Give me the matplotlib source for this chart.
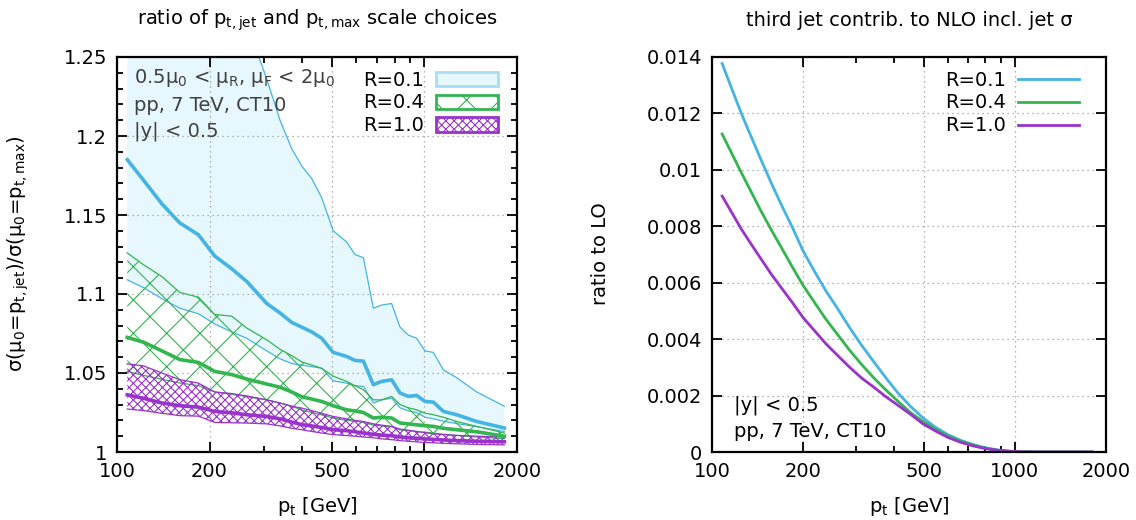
import matplotlib
matplotlib.use("Agg")

import matplotlib.pyplot as plt
import matplotlib.patches as mpatches
from matplotlib.ticker import FixedLocator, FormatStrFormatter, NullFormatter

plt.rcParams.update({
    "font.family": "DejaVu Sans",
    "font.size": 14,
    "mathtext.default": "regular",
    "hatch.linewidth": 0.8,
    "axes.linewidth": 1.6,
})

# ── data: scale-choice ratio (left panel) ───────────────────────────────────
pt = [108, 122, 140, 160, 184, 208, 236, 264, 307, 339, 370, 399, 430, 463,
      505, 558, 594, 633, 682, 726, 782, 833, 886, 943, 1004, 1069, 1152,
      1273, 1479, 1819]

r01_hi = [1.45, 1.42, 1.385, 1.355, 1.33, 1.31, 1.29, 1.272, 1.236, 1.21,
          1.192, 1.181, 1.173, 1.161, 1.140, 1.133, 1.125, 1.123, 1.091,
          1.093, 1.094, 1.079, 1.074, 1.072, 1.064, 1.063, 1.052, 1.047,
          1.038, 1.029]
r01_mid = [1.185, 1.172, 1.157, 1.145, 1.1375, 1.124, 1.116, 1.108, 1.094,
           1.088, 1.082, 1.079, 1.076, 1.072, 1.063, 1.0605, 1.058, 1.0575,
           1.0426, 1.0447, 1.0457, 1.0373, 1.0352, 1.0358, 1.032, 1.0316,
           1.0257, 1.0236, 1.0193, 1.0152]
r01_lo = [1.109, 1.104, 1.097, 1.091, 1.0875, 1.081, 1.076, 1.072, 1.064,
          1.059, 1.056, 1.055, 1.054, 1.053, 1.045, 1.0436, 1.042, 1.0415,
          1.031, 1.033, 1.034, 1.028, 1.026, 1.025, 1.022, 1.021, 1.0195,
          1.018, 1.016, 1.013]

r04_hi = [1.126, 1.1185, 1.111, 1.101, 1.098, 1.087, 1.086, 1.0785, 1.071,
          1.065, 1.061, 1.057, 1.055, 1.053, 1.048, 1.0447, 1.042, 1.0394,
          1.033, 1.033, 1.0352, 1.030, 1.028, 1.0267, 1.0246, 1.0236, 1.022,
          1.0193, 1.0162, 1.012]
r04_mid = [1.0725, 1.0695, 1.064, 1.0585, 1.0567, 1.051, 1.049, 1.0462,
           1.043, 1.041, 1.038, 1.035, 1.0335, 1.032, 1.0293, 1.0267, 1.026,
           1.025, 1.0215, 1.022, 1.0215, 1.0183, 1.0178, 1.0172, 1.0167,
           1.0162, 1.015, 1.0141, 1.0128, 1.010]
r04_lo = [1.051, 1.0485, 1.046, 1.0437, 1.042, 1.038, 1.0365, 1.035, 1.033,
          1.031, 1.029, 1.0265, 1.025, 1.0235, 1.0215, 1.020, 1.0195, 1.0188,
          1.017, 1.0165, 1.016, 1.014, 1.0135, 1.013, 1.0125, 1.012, 1.0112,
          1.0105, 1.0095, 1.0085]

r10_hi = [1.0558, 1.0545, 1.050, 1.0458, 1.0436, 1.038, 1.037, 1.0355,
          1.033, 1.031, 1.029, 1.0278, 1.0262, 1.0245, 1.0225, 1.021, 1.020,
          1.0193, 1.0178, 1.017, 1.0162, 1.0145, 1.0138, 1.013, 1.0122,
          1.0115, 1.011, 1.0105, 1.010, 1.0095]
r10_mid = [1.0362, 1.034, 1.031, 1.0293, 1.0284, 1.0257, 1.0248, 1.0236,
           1.0225, 1.021, 1.019, 1.0173, 1.0165, 1.0155, 1.0141, 1.0135,
           1.0128, 1.012, 1.0112, 1.0107, 1.0103, 1.0095, 1.009, 1.0087,
           1.0083, 1.008, 1.0076, 1.0072, 1.0068, 1.0065]
r10_lo = [1.0272, 1.0262, 1.0245, 1.023, 1.0227, 1.0187, 1.0185, 1.0183,
          1.0178, 1.0165, 1.015, 1.0141, 1.013, 1.012, 1.011, 1.0104, 1.010,
          1.0095, 1.009, 1.0083, 1.0078, 1.0072, 1.0068, 1.0064, 1.006,
          1.0058, 1.0055, 1.0052, 1.0048, 1.0045]

# ── data: third-jet contribution (right panel) ──────────────────────────────
pt_r = [108, 116, 125, 135, 145, 157, 170, 185, 200, 218, 238, 260, 285,
        312, 342, 375, 412, 452, 497, 546, 600, 660, 725, 800, 880, 970,
        1070, 1200, 1400, 1800]
third_r01 = [0.01377, 0.0129, 0.0120, 0.01115, 0.01037, 0.00953, 0.00873,
             0.00792, 0.00712, 0.00640, 0.00570, 0.00508, 0.00440, 0.00378,
             0.0032, 0.00263, 0.00208, 0.00162, 0.00121, 0.00088, 0.00062,
             0.00042, 0.00027, 0.00015, 0.00007, 0.000025, 0.000005, 0.0,
             0.0, 0.0]
third_r04 = [0.01127, 0.0106, 0.0099, 0.0092, 0.00855, 0.00787, 0.00722,
             0.00652, 0.0059, 0.0053, 0.0047, 0.00416, 0.0036, 0.0031,
             0.00263, 0.0022, 0.00179, 0.0014, 0.00108, 0.00081, 0.00057,
             0.00039, 0.00025, 0.00013, 0.00006, 0.00002, 0.000005, 0.0,
             0.0, 0.0]
third_r10 = [0.00907, 0.0085, 0.0079, 0.00735, 0.00685, 0.0063, 0.0058,
             0.00527, 0.00476, 0.0043, 0.00383, 0.00342, 0.003, 0.00262,
             0.0023, 0.00196, 0.00165, 0.00134, 0.001, 0.00075, 0.00052,
             0.00035, 0.00022, 0.00012, 0.00006, 0.00002, 0.000004, 0.0,
             0.0, 0.0]

x_ticks = [100, 200, 500, 1000, 2000]
x_minor = [300, 400, 600, 700, 800, 900]

BLUE = "#45b4e4"
BLUE_FILL = "#e6f7fd"
BLUE_EDGE = "#a8def5"
GREEN = "#33b550"
PURPLE = "#9a33cc"
TXT_GREY = "#404040"
FS = 14

fig = plt.figure(figsize=(11.36, 5.2), dpi=100)
ax1 = fig.add_axes([117 / 1136, 68 / 520, 400 / 1136, 395 / 520])
ax2 = fig.add_axes([712 / 1136, 68 / 520, 394 / 1136, 395 / 520])


def style_axes(ax):
    ax.set_xscale("log")
    ax.set_xlim(100, 2000)
    ax.xaxis.set_major_locator(FixedLocator(x_ticks))
    ax.xaxis.set_minor_locator(FixedLocator(x_minor))
    ax.xaxis.set_major_formatter(FormatStrFormatter("%g"))
    ax.xaxis.set_minor_formatter(NullFormatter())
    ax.yaxis.set_major_formatter(FormatStrFormatter("%g"))
    ax.tick_params(which="both", direction="in", top=True, right=True,
                   width=1.3, labelsize=FS, pad=7)
    ax.tick_params(which="major", length=7)
    ax.tick_params(which="minor", length=4)
    ax.set_axisbelow("line")
    ax.grid(True, which="major", linestyle=(0, (1, 3)), color="#9a9a9a",
            linewidth=0.9)


# ── left panel ──────────────────────────────────────────────────────────────
style_axes(ax1)
ax1.set_ylim(1, 1.25)
ax1.yaxis.set_major_locator(FixedLocator([1, 1.05, 1.1, 1.15, 1.2, 1.25]))
ax1.yaxis.set_minor_locator(FixedLocator([1 + 0.01 * i for i in range(26)]))

ax1.fill_between(pt, r01_lo, r01_hi, facecolor=BLUE_FILL, edgecolor="none",
                 zorder=1)
ax1.plot(pt, r01_hi, color=BLUE, lw=0.9, zorder=2)
ax1.plot(pt, r01_lo, color=BLUE, lw=0.9, zorder=2)
ax1.plot(pt, r01_mid, color=BLUE, lw=2.6, zorder=3)

ax1.fill_between(pt, r04_lo, r04_hi, facecolor="none", edgecolor=GREEN,
                 hatch="x", linewidth=0, zorder=2)
ax1.plot(pt, r04_hi, color=GREEN, lw=0.9, zorder=2)
ax1.plot(pt, r04_lo, color=GREEN, lw=0.9, zorder=2)
ax1.plot(pt, r04_mid, color=GREEN, lw=2.6, zorder=3)

ax1.fill_between(pt, r10_lo, r10_hi, facecolor="none", edgecolor=PURPLE,
                 hatch="xxxx", linewidth=0, zorder=2)
ax1.plot(pt, r10_hi, color=PURPLE, lw=0.9, zorder=2)
ax1.plot(pt, r10_lo, color=PURPLE, lw=0.9, zorder=2)
ax1.plot(pt, r10_mid, color=PURPLE, lw=2.6, zorder=3)

handles = [
    mpatches.Patch(facecolor=BLUE_FILL, edgecolor=BLUE_EDGE, linewidth=2),
    mpatches.Patch(facecolor="white", edgecolor=GREEN, hatch="x", linewidth=2),
    mpatches.Patch(facecolor="white", edgecolor=PURPLE, hatch="xxxx", linewidth=2),
]
ax1.legend(handles, ["R=0.1", "R=0.4", "R=1.0"], loc="upper right",
           bbox_to_anchor=(0.995, 1.01), frameon=False, markerfirst=False,
           fontsize=FS, handlelength=3.15, handleheight=0.75,
           labelspacing=0.2, handletextpad=0.65, borderaxespad=0.5)

ax1.text(0.042, 0.947, "0.5μ$_0$ < μ$_R$, μ$_F$ < 2μ$_0$", transform=ax1.transAxes,
         ha="left", va="center", fontsize=FS, color=TXT_GREY)
ax1.text(0.042, 0.878, "pp, 7 TeV, CT10", transform=ax1.transAxes,
         ha="left", va="center", fontsize=FS, color=TXT_GREY)
ax1.text(0.042, 0.812, "|y| < 0.5", transform=ax1.transAxes,
         ha="left", va="center", fontsize=FS, color=TXT_GREY)

# ── right panel ─────────────────────────────────────────────────────────────
style_axes(ax2)
ax2.set_ylim(0, 0.014)
ax2.yaxis.set_major_locator(FixedLocator([0.002 * i for i in range(8)]))

ax2.plot(pt_r, third_r01, color=BLUE, lw=2.0, label="R=0.1")
ax2.plot(pt_r, third_r04, color=GREEN, lw=2.0, label="R=0.4")
ax2.plot(pt_r, third_r10, color=PURPLE, lw=2.0, label="R=1.0")
ax2.legend(loc="upper right", bbox_to_anchor=(0.975, 1.01), frameon=False,
           markerfirst=False, fontsize=FS, handlelength=3.1,
           labelspacing=0.2, handletextpad=0.65, borderaxespad=0.5)

ax2.text(0.056, 0.119, "|y| < 0.5", transform=ax2.transAxes,
         ha="left", va="center", fontsize=FS)
ax2.text(0.056, 0.051, "pp, 7 TeV, CT10", transform=ax2.transAxes,
         ha="left", va="center", fontsize=FS)

# ── titles & axis labels ────────────────────────────────────────────────────
fig.text(317 / 1136, 1 - 20 / 520, "ratio of p$_{t,jet}$ and p$_{t,max}$ scale choices",
         ha="center", va="center", fontsize=FS)
fig.text(909 / 1136, 1 - 20 / 520, "third jet contrib. to NLO incl. jet σ",
         ha="center", va="center", fontsize=FS)
fig.text(317 / 1136, 1 - 506 / 520, "p$_t$ [GeV]", ha="center", va="center",
         fontsize=FS)
fig.text(909 / 1136, 1 - 506 / 520, "p$_t$ [GeV]", ha="center", va="center",
         fontsize=FS)
fig.text(18 / 1136, 1 - 254 / 520, "σ(μ$_0$=p$_{t,jet}$)/σ(μ$_0$=p$_{t,max}$)",
         ha="center", va="center", rotation=90, fontsize=FS)
fig.text(601 / 1136, 1 - 254 / 520, "ratio to LO", ha="center", va="center",
         rotation=90, fontsize=FS)

plt.savefig("out.png", dpi=100)
plt.close()
